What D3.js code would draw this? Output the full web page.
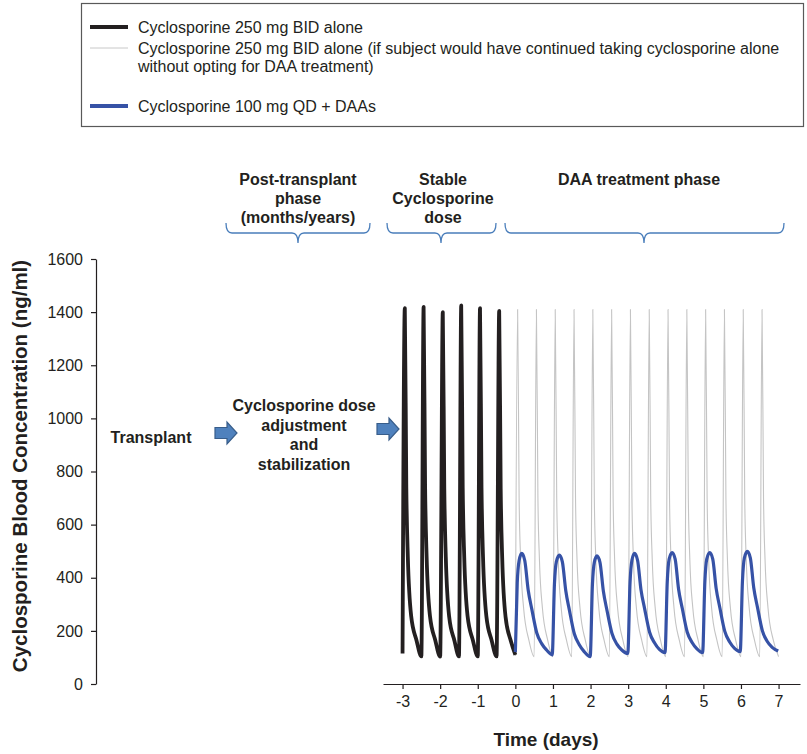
<!DOCTYPE html>
<html>
<head>
<meta charset="utf-8">
<script src="https://cdn.jsdelivr.net/npm/d3@7"></script>
<style>
  body { margin: 0; background: #fff; }
  svg { display: block; font-family: "Liberation Sans", Arial, sans-serif; }
  text { fill: #231f20; }
</style>
</head>
<body>
<div id="chart"></div>
<script>
// Cyclosporine concentration (ng/ml) vs time (days)

// 250 mg BID, before DAA start
const bidAlone = [
  [-3.00, 115], [-2.94, 1415], [-2.90, 740], [-2.86, 480], [-2.77, 255], [-2.63, 165],
  [-2.50, 104], [-2.44, 1420], [-2.40, 740], [-2.36, 480], [-2.27, 255], [-2.13, 165],
  [-2.00, 103], [-1.93, 1400], [-1.89, 735], [-1.85, 478], [-1.76, 253], [-1.62, 163],
  [-1.50, 104], [-1.44, 1425], [-1.40, 740], [-1.36, 480], [-1.27, 255], [-1.13, 165],
  [-1.00, 104], [-0.94, 1415], [-0.90, 738], [-0.86, 478], [-0.77, 254], [-0.63, 164],
  [-0.50, 104], [-0.43, 1405], [-0.39, 735], [-0.35, 476], [-0.26, 252], [-0.12, 162],
  [0.00, 110]
];

// 250 mg BID continued (hypothetical)
const bidContinued = [
  [0.00, 105], [0.06, 1410], [0.10, 700], [0.14, 470], [0.22, 285], [0.36, 165],
  [0.50, 103], [0.56, 1410], [0.60, 700], [0.64, 470], [0.72, 285], [0.86, 165],
  [1.00, 103], [1.06, 1410], [1.10, 700], [1.14, 470], [1.22, 285], [1.36, 165],
  [1.50, 103], [1.56, 1410], [1.60, 700], [1.64, 470], [1.72, 285], [1.86, 165],
  [2.00, 103], [2.06, 1410], [2.10, 700], [2.14, 470], [2.22, 285], [2.36, 165],
  [2.50, 103], [2.56, 1410], [2.60, 700], [2.64, 470], [2.72, 285], [2.86, 165],
  [3.00, 103], [3.06, 1410], [3.10, 700], [3.14, 470], [3.22, 285], [3.36, 165],
  [3.50, 103], [3.56, 1410], [3.60, 700], [3.64, 470], [3.72, 285], [3.86, 165],
  [4.00, 103], [4.06, 1410], [4.10, 700], [4.14, 470], [4.22, 285], [4.36, 165],
  [4.50, 103], [4.56, 1410], [4.60, 700], [4.64, 470], [4.72, 285], [4.86, 165],
  [5.00, 103], [5.06, 1410], [5.10, 700], [5.14, 470], [5.22, 285], [5.36, 165],
  [5.50, 103], [5.56, 1410], [5.60, 700], [5.64, 470], [5.72, 285], [5.86, 165],
  [6.00, 103], [6.06, 1410], [6.10, 700], [6.14, 470], [6.22, 285], [6.36, 165],
  [6.50, 103], [6.56, 1410], [6.60, 700], [6.64, 470], [6.72, 285], [6.86, 165],
  [7.00, 103]
];

// 100 mg QD + DAAs
const qdDaa = [
  [0.00, 120], [0.05, 380], [0.10, 465], [0.17, 492], [0.25, 465], [0.34, 355], [0.44, 280], [0.57, 192], [0.70, 152], [0.83, 128],
  [0.98, 110], [1.04, 378], [1.09, 460], [1.17, 485], [1.25, 460], [1.34, 352], [1.44, 276], [1.57, 188], [1.70, 148], [1.83, 122],
  [1.99, 103], [2.05, 375], [2.10, 458], [2.17, 482], [2.25, 458], [2.34, 350], [2.44, 275], [2.57, 190], [2.70, 150], [2.83, 128],
  [2.99, 115], [3.05, 382], [3.10, 466], [3.17, 492], [3.25, 466], [3.34, 356], [3.44, 282], [3.57, 195], [3.70, 155], [3.83, 130],
  [3.98, 118], [4.04, 385], [4.09, 470], [4.17, 495], [4.25, 470], [4.34, 358], [4.44, 284], [4.57, 196], [4.70, 156], [4.83, 132],
  [4.98, 118], [5.04, 385], [5.09, 470], [5.17, 495], [5.25, 470], [5.34, 360], [5.44, 286], [5.57, 198], [5.70, 158], [5.83, 134],
  [5.98, 122], [6.04, 388], [6.09, 474], [6.17, 499], [6.25, 474], [6.34, 362], [6.44, 288], [6.57, 200], [6.70, 160], [6.83, 138],
  [6.99, 124]
];

const xTicks = [-3, -2, -1, 0, 1, 2, 3, 4, 5, 6, 7];
const yTicks = [0, 200, 400, 600, 800, 1000, 1200, 1400, 1600];

const legendItems = [
  { lines: ["Cyclosporine 250 mg BID alone"], color: "#231f20", width: 4 },
  { lines: ["Cyclosporine 250 mg BID alone (if subject would have continued taking cyclosporine alone",
            "without opting for DAA treatment)"], color: "#c8c8c8", width: 1 },
  { lines: ["Cyclosporine 100 mg QD + DAAs"], color: "#3652a6", width: 4 }
];

const phases = [
  { lines: ["Post-transplant", "phase", "(months/years)"], cx: 298, x0: 226, x1: 370, tip: 298 },
  { lines: ["Stable", "Cyclosporine", "dose"], cx: 443, x0: 387, x1: 496, tip: 441 },
  { lines: ["DAA treatment phase"], cx: 639, x0: 505, x1: 784, tip: 644 }
];

const W = 807, H = 754;
const svg = d3.select("#chart").append("svg").attr("width", W).attr("height", H);

const x = d3.scaleLinear().domain([-3.52, 7.57]).range([383, 800]);
const y = d3.scaleLinear().domain([0, 1600]).range([684, 259]);

// legend box
svg.append("rect")
  .attr("x", 81.5).attr("y", 3.5).attr("width", 722).attr("height", 123)
  .attr("fill", "none").attr("stroke", "#595959").attr("stroke-width", 1.2);

const legendRows = [{ y: 27, base: 33 }, { y: 48, base: 54 }, { y: 106, base: 112 }];
legendItems.forEach((d, i) => {
  const r = legendRows[i];
  svg.append("line")
    .attr("x1", 90).attr("x2", 128).attr("y1", r.y).attr("y2", r.y)
    .attr("stroke", d.color).attr("stroke-width", d.width);
  d.lines.forEach((t, j) => {
    svg.append("text")
      .attr("x", 138).attr("y", r.base + j * 18)
      .style("font-size", "16px")
      .text(t);
  });
});

// phase headers and braces
phases.forEach(p => {
  p.lines.forEach((t, j) => {
    svg.append("text")
      .attr("x", p.cx).attr("y", 185 + j * 19)
      .attr("text-anchor", "middle")
      .style("font-size", "16px").style("font-weight", "bold")
      .text(t);
  });
  const yl = 233, yt = 223, yb = 243, r = 6;
  const path = `M${p.x0},${yt} Q${p.x0},${yl} ${p.x0 + r},${yl} L${p.tip - r},${yl} Q${p.tip},${yl} ${p.tip},${yb}`
    + ` Q${p.tip},${yl} ${p.tip + r},${yl} L${p.x1 - r},${yl} Q${p.x1},${yl} ${p.x1},${yt}`;
  svg.append("path").attr("d", path)
    .attr("fill", "none").attr("stroke", "#4a7ebb").attr("stroke-width", 1.3);
});

// process annotation
svg.append("text")
  .attr("x", 151).attr("y", 443)
  .attr("text-anchor", "middle")
  .style("font-size", "16px").style("font-weight", "bold")
  .text("Transplant");

["Cyclosporine dose", "adjustment", "and", "stabilization"].forEach((t, j) => {
  svg.append("text")
    .attr("x", 304).attr("y", 411 + j * 19.5)
    .attr("text-anchor", "middle")
    .style("font-size", "16px").style("font-weight", "bold")
    .text(t);
});

function blockArrow(x0, cy) {
  const pts = [[x0, cy - 5.5], [x0 + 12, cy - 5.5], [x0 + 12, cy - 11], [x0 + 22, cy],
               [x0 + 12, cy + 11], [x0 + 12, cy + 5.5], [x0, cy + 5.5]];
  svg.append("polygon")
    .attr("points", pts.map(p => p.join(",")).join(" "))
    .attr("fill", "#4f81bd").attr("stroke", "#385d8a").attr("stroke-width", 1.2);
}
blockArrow(215, 433);
blockArrow(377, 429);

// axes
const yAxis = svg.append("g")
  .attr("transform", "translate(96,0)")
  .call(d3.axisLeft(y).tickValues(yTicks).tickFormat(d => String(d))
    .tickSize(5).tickSizeOuter(0).tickPadding(8));

const xAxis = svg.append("g")
  .attr("transform", "translate(0,684)")
  .call(d3.axisBottom(x).tickValues(xTicks).tickFormat(d => String(d))
    .tickSize(5).tickSizeOuter(0).tickPadding(7));

[yAxis, xAxis].forEach(g => {
  g.selectAll("path, line").attr("stroke", "#231f20").attr("stroke-width", 1.2);
  g.selectAll("text").style("font-size", "16px").style("fill", "#231f20")
    .style("font-family", "'Liberation Sans', Arial, sans-serif");
});

// axis titles
svg.append("text")
  .attr("transform", "translate(27,466) rotate(-90)")
  .attr("text-anchor", "middle")
  .style("font-size", "20.5px").style("font-weight", "bold")
  .text("Cyclosporine Blood Concentration (ng/ml)");

svg.append("text")
  .attr("x", 546).attr("y", 746)
  .attr("text-anchor", "middle")
  .style("font-size", "19px").style("font-weight", "bold")
  .text("Time (days)");

// series
const line = d3.line()
  .x(d => x(d[0]))
  .y(d => y(d[1]))
  .curve(d3.curveMonotoneX);

svg.append("path").datum(bidContinued)
  .attr("d", line).attr("fill", "none")
  .attr("stroke", "#c4c4c4").attr("stroke-width", 1.1);

svg.append("path").datum(bidAlone)
  .attr("d", line).attr("fill", "none")
  .attr("stroke", "#231f20").attr("stroke-width", 3.8)
  .attr("stroke-linejoin", "round");

svg.append("path").datum(qdDaa)
  .attr("d", line).attr("fill", "none")
  .attr("stroke", "#3652a6").attr("stroke-width", 3.2)
  .attr("stroke-linejoin", "round");
</script>
</body>
</html>
